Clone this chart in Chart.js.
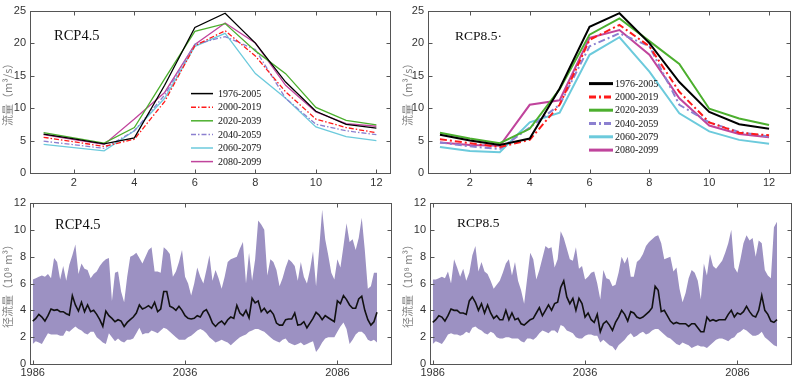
<!DOCTYPE html>
<html><head><meta charset="utf-8">
<script src="https://cdn.jsdelivr.net/npm/chart.js@4.4.1/dist/chart.umd.min.js"></script>
<style>
html,body{margin:0;padding:0;background:#fff;}
body{width:797px;height:378px;position:relative;overflow:hidden;}
.p{position:absolute;}
canvas{display:block;}
</style></head><body>
<div class="p" style="left:0;top:0;width:398px;height:190px"><canvas id="c1" width="398" height="190"></canvas></div>
<div class="p" style="left:400px;top:0;width:397px;height:190px"><canvas id="c2" width="397" height="190"></canvas></div>
<div class="p" style="left:0;top:190px;width:398px;height:188px"><canvas id="c3" width="398" height="188"></canvas></div>
<div class="p" style="left:400px;top:190px;width:397px;height:188px"><canvas id="c4" width="397" height="188"></canvas></div>
<script>
// ---------- DATA ----------
const months = [1,2,3,4,5,6,7,8,9,10,11,12];
const periods = ['1976-2005','2000-2019','2020-2039','2040-2059','2060-2079','2080-2099'];
const monthTicks = [2,4,6,8,10,12];
const flowTicks = [0,5,10,15,20,25];
const yearTicks = [1986,2036,2086];
const runoffTicks = [0,2,4,6,8,10,12];
const startYear = 1986;

// RCP4.5 monthly flow (m3/s)
const r45_1976 = [6.0,5.25,4.5,5.4,13.5,22.4,24.6,20.0,14.0,9.5,7.5,6.9];
const r45_2000 = [5.5,4.8,4.1,5.2,11.0,19.6,21.9,18.0,12.5,8.3,7.0,6.2];
const r45_2020 = [6.2,5.4,4.6,7.0,14.5,21.8,23.0,18.8,15.3,10.1,8.1,7.4];
const r45_2040 = [4.9,4.35,3.8,6.5,12.0,19.8,21.0,19.0,11.5,7.5,6.5,5.9];
const r45_2060 = [4.4,3.9,3.4,6.5,11.5,19.5,21.5,15.3,11.5,7.1,5.6,5.0];
const r45_2080 = [5.9,5.15,4.4,8.3,12.4,19.8,23.1,20.0,13.5,9.4,7.6,7.2];
// RCP8.5 monthly flow (m3/s)
const r85_1976 = [5.9,5.0,4.3,5.3,13.0,22.5,24.6,20.0,14.0,9.4,7.5,6.8];
const r85_2000 = [5.2,4.6,4.0,5.1,10.5,20.5,22.8,19.5,12.5,7.8,6.2,5.8];
const r85_2020 = [6.2,5.3,4.6,6.8,12.9,21.3,23.8,20.3,16.8,9.9,8.4,7.4];
const r85_2040 = [4.7,4.1,3.7,7.0,10.5,19.5,21.5,19.5,10.5,7.8,6.3,5.6];
const r85_2060 = [4.0,3.4,3.2,7.8,9.3,18.2,20.9,15.6,9.2,6.4,5.1,4.5];
const r85_2080 = [4.7,4.3,4.2,10.5,11.2,20.8,22.0,18.2,11.5,7.3,6.0,5.5];

// Annual runoff (1e8 m3), 1986-2099
const r45Mean = [3.2,3.4,3.7,3.5,3.2,3.6,4.1,4.0,4.05,3.9,
 3.9,3.75,3.65,5.1,4.4,3.95,4.6,3.9,4.4,3.9,
 4.0,3.7,3.3,2.8,3.95,3.6,3.4,3.15,3.3,3.2,
 2.8,3.1,3.3,3.5,3.8,4.4,4.1,4.2,4.35,4.15,
 4.6,3.9,4.1,5.4,5.4,4.3,4.2,4.0,4.3,4.0,
 3.6,3.4,3.35,3.4,3.6,3.5,3.9,4.05,3.6,3.05,
 2.8,3.05,3.2,2.95,3.3,3.5,3.4,4.37,3.8,3.6,
 4.0,3.45,4.9,4.55,4.7,3.9,4.15,3.8,4.0,3.7,
 3.05,2.9,2.9,3.3,3.35,3.35,3.8,2.9,2.95,3.15,
 2.7,3.05,3.4,3.85,3.65,3.3,3.6,3.45,3.3,3.15,
 4.7,4.5,5.1,4.8,4.4,4.15,4.15,4.85,5.05,4.0,
 3.3,2.9,3.15,3.85];
const r45Upper = [6.3,6.4,6.5,6.6,6.5,6.7,6.4,7.9,7.6,6.3,
 7.3,6.2,7.4,8.1,8.9,6.7,7.5,7.1,7.0,6.4,
 6.7,6.9,7.3,7.6,7.8,7.9,4.7,6.8,6.9,5.4,
 4.6,6.5,8.0,8.1,8.3,7.9,7.5,8.0,8.5,8.7,
 6.9,6.9,6.8,8.7,8.5,8.2,6.5,6.9,7.6,8.5,
 6.5,6.0,5.1,6.0,7.2,6.5,6.0,7.0,8.1,6.2,
 7.0,6.4,5.6,6.5,7.6,7.8,7.9,8.0,8.6,9.1,
 6.0,8.3,6.2,7.8,10.7,10.4,10.0,6.6,7.8,7.6,
 7.0,5.8,6.4,7.2,7.8,7.6,7.3,6.2,7.6,6.5,
 6.0,7.0,8.4,5.8,8.5,11.5,9.3,8.1,6.8,6.3,
 7.8,7.2,8.8,10.5,9.1,9.3,8.5,9.4,10.9,8.5,
 5.6,5.8,6.8,6.8];
const r45Lower = [1.5,1.7,1.6,1.5,1.9,2.3,2.2,2.2,2.2,2.1,
 2.1,2.5,2.4,2.6,2.8,2.6,2.5,2.3,2.2,2.4,
 2.4,2.0,1.8,1.6,1.5,2.3,2.0,1.7,1.9,1.7,
 1.6,1.8,1.8,1.9,2.3,2.7,2.2,2.3,2.3,2.5,
 2.4,2.3,2.5,2.7,2.6,2.4,2.2,2.0,1.8,1.8,
 1.8,2.0,2.1,2.3,2.5,2.6,2.5,2.3,2.0,1.8,
 1.6,1.7,1.8,1.7,1.6,1.4,1.6,1.8,2.0,2.1,
 2.2,2.4,2.5,2.6,2.6,2.5,2.4,2.2,2.0,1.8,
 1.7,1.6,1.8,1.9,1.6,1.5,1.4,1.5,1.6,1.4,
 1.5,1.6,1.7,0.9,1.2,1.6,1.9,2.0,2.0,2.0,
 2.4,2.8,3.1,2.6,1.5,1.8,2.2,2.4,2.4,2.2,
 1.8,1.7,1.8,1.6];
const r85Mean = [3.1,3.3,3.6,3.5,3.2,3.6,4.1,4.0,4.0,3.8,
 3.8,3.7,4.7,5.0,4.6,4.0,4.5,3.8,4.4,3.8,
 3.4,3.6,3.3,3.3,4.0,3.3,3.8,3.3,3.4,3.0,
 2.9,3.1,3.3,3.4,3.8,4.2,3.6,4.0,4.4,4.0,
 4.5,4.6,5.7,6.2,5.0,4.5,4.9,4.0,4.9,4.5,
 3.5,3.8,3.3,3.1,3.7,2.4,3.0,3.2,2.9,2.5,
 3.1,3.5,4.0,3.7,3.2,3.9,3.8,3.5,3.4,3.5,
 3.7,3.9,4.2,5.8,5.5,3.9,4.0,3.6,3.2,3.0,
 3.1,3.0,3.0,3.0,2.8,3.0,3.0,2.7,2.4,2.4,
 3.5,3.2,3.3,3.2,3.3,3.3,3.3,3.7,4.0,3.5,
 3.8,3.7,3.9,4.3,3.9,3.6,3.5,4.0,5.1,4.0,
 3.7,3.2,3.1,3.3];
const r85Upper = [6.3,6.3,6.4,6.5,6.4,6.9,6.0,7.8,7.2,6.5,
 7.1,6.2,6.8,8.1,8.8,6.9,7.6,6.9,6.7,6.2,
 5.6,5.9,6.2,6.8,7.5,7.8,6.6,7.6,6.2,5.5,
 4.5,6.4,8.3,7.8,6.3,7.0,7.9,8.8,8.6,8.7,
 7.2,7.8,9.9,9.4,8.6,7.8,7.7,8.7,7.1,7.3,
 6.3,6.5,6.8,6.9,6.0,4.8,7.0,6.4,6.3,5.8,
 5.9,6.8,8.0,7.5,8.0,6.5,6.5,7.6,7.8,8.2,
 8.8,9.1,9.3,9.5,9.6,9.0,7.8,7.9,8.0,6.9,
 7.2,5.6,4.6,5.3,6.4,7.0,6.8,6.2,4.8,7.5,
 6.6,8.2,7.3,7.1,7.4,7.7,8.3,9.0,10.0,7.2,
 6.8,7.8,9.0,9.6,9.2,9.4,8.0,9.2,9.0,7.0,
 6.6,6.4,10.2,10.6];
const r85Lower = [1.5,1.7,1.6,1.5,1.8,2.2,2.3,2.2,2.2,2.1,
 2.2,2.4,2.3,2.7,2.8,2.6,2.5,2.3,2.2,2.4,
 2.3,2.0,1.9,1.9,2.0,2.0,1.9,1.9,1.9,1.7,
 1.6,1.9,1.9,1.8,2.0,2.3,2.5,2.4,2.3,2.5,
 2.5,2.3,2.9,2.8,2.5,2.4,2.3,2.0,1.9,1.9,
 2.1,2.2,2.2,2.1,2.1,1.6,1.8,1.6,1.4,1.3,
 1.0,1.4,1.6,1.8,2.1,2.3,2.0,2.1,2.3,2.4,
 2.2,2.3,2.5,2.6,2.6,2.4,2.2,2.0,1.9,1.7,
 1.5,1.4,1.6,1.5,1.4,1.2,1.3,1.4,1.3,1.3,
 1.2,1.4,1.6,1.8,1.9,1.9,1.8,1.7,1.9,2.0,
 2.3,2.4,2.6,2.5,2.3,2.1,2.1,2.2,2.4,2.0,
 1.8,1.6,1.4,1.3];

// ---------- STYLES ----------
const lineColors = ['#000000','#ff1a1a','#4caf2e','#8c80d0','#6ccadc','#c0449c'];
const dashLeft = [[],[5,2,1.5,2],[],[5,2,1.5,2],[],[]];
const dashRight = [[],[7,3,2,3],[],[7,3,2,3],[],[]];
const bandColor = '#9c91c2';
const tickFont = {family:'Liberation Sans, Arial, sans-serif', size:11};
const titleFont = {family:'Noto Sans CJK SC, sans-serif', size:11};

const framePlugin = {
  id:'frame',
  afterDatasetsDraw(chart, args, o){
    const {ctx, chartArea:a, scales:{x,y}} = chart;
    ctx.save();
    ctx.strokeStyle = '#555'; ctx.lineWidth = 1; ctx.setLineDash([]);
    const L = Math.round(a.left)+0.5, T = Math.round(a.top)+0.5, R = Math.round(a.right)+0.5, B = Math.round(a.bottom)+0.5;
    ctx.strokeRect(L, T, R-L, B-T);
    ctx.beginPath();
    x.ticks.forEach(t=>{const px=Math.round(x.getPixelForValue(t.value))+0.5;
      ctx.moveTo(px,B); ctx.lineTo(px,B-4); ctx.moveTo(px,T); ctx.lineTo(px,T+4);});
    y.ticks.forEach(t=>{const py=Math.round(y.getPixelForValue(t.value))+0.5;
      ctx.moveTo(L,py); ctx.lineTo(L+4,py); ctx.moveTo(R,py); ctx.lineTo(R-4,py);});
    ctx.stroke();
    if (o.text){
      ctx.fillStyle = '#111'; ctx.font = o.font; ctx.textBaseline = 'middle'; ctx.textAlign='left';
      ctx.fillText(o.text, a.left + o.dx, a.top + o.dy);
    }
    if (o.legend){
      const g = o.legend;
      chart.data.datasets.forEach((ds,i)=>{
        const yy = a.top + g.y0 + i*g.dy;
        ctx.strokeStyle = ds.borderColor; ctx.lineWidth = g.lw; ctx.setLineDash(ds.borderDash||[]);
        ctx.beginPath(); ctx.moveTo(a.left+g.x1, yy); ctx.lineTo(a.left+g.x2, yy); ctx.stroke();
        ctx.setLineDash([]);
        ctx.fillStyle = '#111'; ctx.font = g.font; ctx.textBaseline='middle';
        ctx.fillText(ds.label, a.left+g.tx, yy+0.5);
      });
    }
    ctx.restore();
  }
};

function monthlyChart(id, series, dashes, lw, xr, yw, padR, frameOpts){
  return new Chart(document.getElementById(id), {
    type:'line',
    data:{datasets: series.map((s,i)=>({
      label: periods[i],
      data: months.map((m,k)=>({x:m, y:s[k]})),
      borderColor: lineColors[i], borderWidth: lw, borderDash: dashes[i],
      pointRadius:0, tension:0, fill:false
    }))},
    options:{
      responsive:false, animation:false, devicePixelRatio:1,
      layout:{padding:{top:7, right:padR, left:0, bottom:0}},
      plugins:{legend:{display:false}, tooltip:{enabled:false}, frame: frameOpts},
      scales:{
        x:{type:'linear', min:xr[0], max:xr[1],
           afterBuildTicks:s=>{s.ticks = monthTicks.map(v=>({value:v}));},
           afterFit:s=>{s.height = 17;},
           grid:{display:false, drawTicks:false}, border:{display:false},
           ticks:{font:tickFont, color:'#333', padding:3, maxRotation:0}},
        y:{min:0, max:25,
           afterBuildTicks:s=>{s.ticks = flowTicks.map(v=>({value:v}));},
           afterFit:s=>{s.width = yw;},
           grid:{display:false, drawTicks:false}, border:{display:false},
           ticks:{font:tickFont, color:'#333', padding:4},
           title:{display:true, text:'流量（m³/s）', color:'#808080', font:titleFont, padding:{top:1,bottom:0}}}
      }
    },
    plugins:[framePlugin]
  });
}

function annualChart(id, mean, lower, upper, yw, padR, frameOpts){
  const pts = arr => arr.map((v,i)=>({x:startYear+i, y:v}));
  return new Chart(document.getElementById(id), {
    type:'line',
    data:{datasets:[
      {label:'mean', data:pts(mean), borderColor:'#111', borderWidth:1.6, pointRadius:0, tension:0, fill:false},
      {label:'lower', data:pts(lower), borderColor:bandColor, borderWidth:0, pointRadius:0, tension:0, fill:false},
      {label:'upper', data:pts(upper), borderColor:bandColor, borderWidth:0, pointRadius:0, tension:0,
       fill:1, backgroundColor:bandColor}
    ]},
    options:{
      responsive:false, animation:false, devicePixelRatio:1,
      layout:{padding:{top:13, right:padR, left:0, bottom:0}},
      plugins:{legend:{display:false}, tooltip:{enabled:false}, frame: frameOpts, filler:{propagate:false}},
      scales:{
        x:{type:'linear', min:1985.1, max:2103.6,
           afterBuildTicks:s=>{s.ticks = yearTicks.map(v=>({value:v}));},
           afterFit:s=>{s.height = 14;},
           grid:{display:false, drawTicks:false}, border:{display:false},
           ticks:{font:tickFont, color:'#333', padding:2, maxRotation:0, callback:v=>String(v)}},
        y:{min:0, max:12,
           afterBuildTicks:s=>{s.ticks = runoffTicks.map(v=>({value:v}));},
           afterFit:s=>{s.width = yw;},
           grid:{display:false, drawTicks:false}, border:{display:false},
           ticks:{font:tickFont, color:'#333', padding:4},
           title:{display:true, text:'径流量（10⁸ m³）', color:'#808080', font:titleFont, padding:{top:1,bottom:0}}}
      }
    },
    plugins:[framePlugin]
  });
}

monthlyChart('c1', [r45_1976,r45_2000,r45_2020,r45_2040,r45_2060,r45_2080], dashLeft, 1.3, [0.55,12.45], 30, 8,
  {text:'RCP4.5', font:'14.5px "Liberation Serif", "Times New Roman", serif', dx:24, dy:26,
   legend:{x1:161, x2:183, tx:188, y0:83, dy:13.6, lw:1.5, font:'10px "Liberation Serif", serif'}});
monthlyChart('c2', [r85_1976,r85_2000,r85_2020,r85_2040,r85_2060,r85_2080], dashRight, 2, [0.6,12.7], 28, 7,
  {text:'RCP8.5·', font:'13.5px "Liberation Serif", "Times New Roman", serif', dx:27, dy:26,
   legend:{x1:161, x2:185, tx:187, y0:73, dy:13.3, lw:3, font:'10px "Liberation Serif", serif'}});
annualChart('c3', r45Mean, r45Lower, r45Upper, 30, 7,
  {text:'RCP4.5', font:'14.5px "Liberation Serif", "Times New Roman", serif', dx:25, dy:22});
annualChart('c4', r85Mean, r85Lower, r85Upper, 30, 6,
  {text:'RCP8.5', font:'13.5px "Liberation Serif", "Times New Roman", serif', dx:27, dy:20});
</script>
</body></html>
